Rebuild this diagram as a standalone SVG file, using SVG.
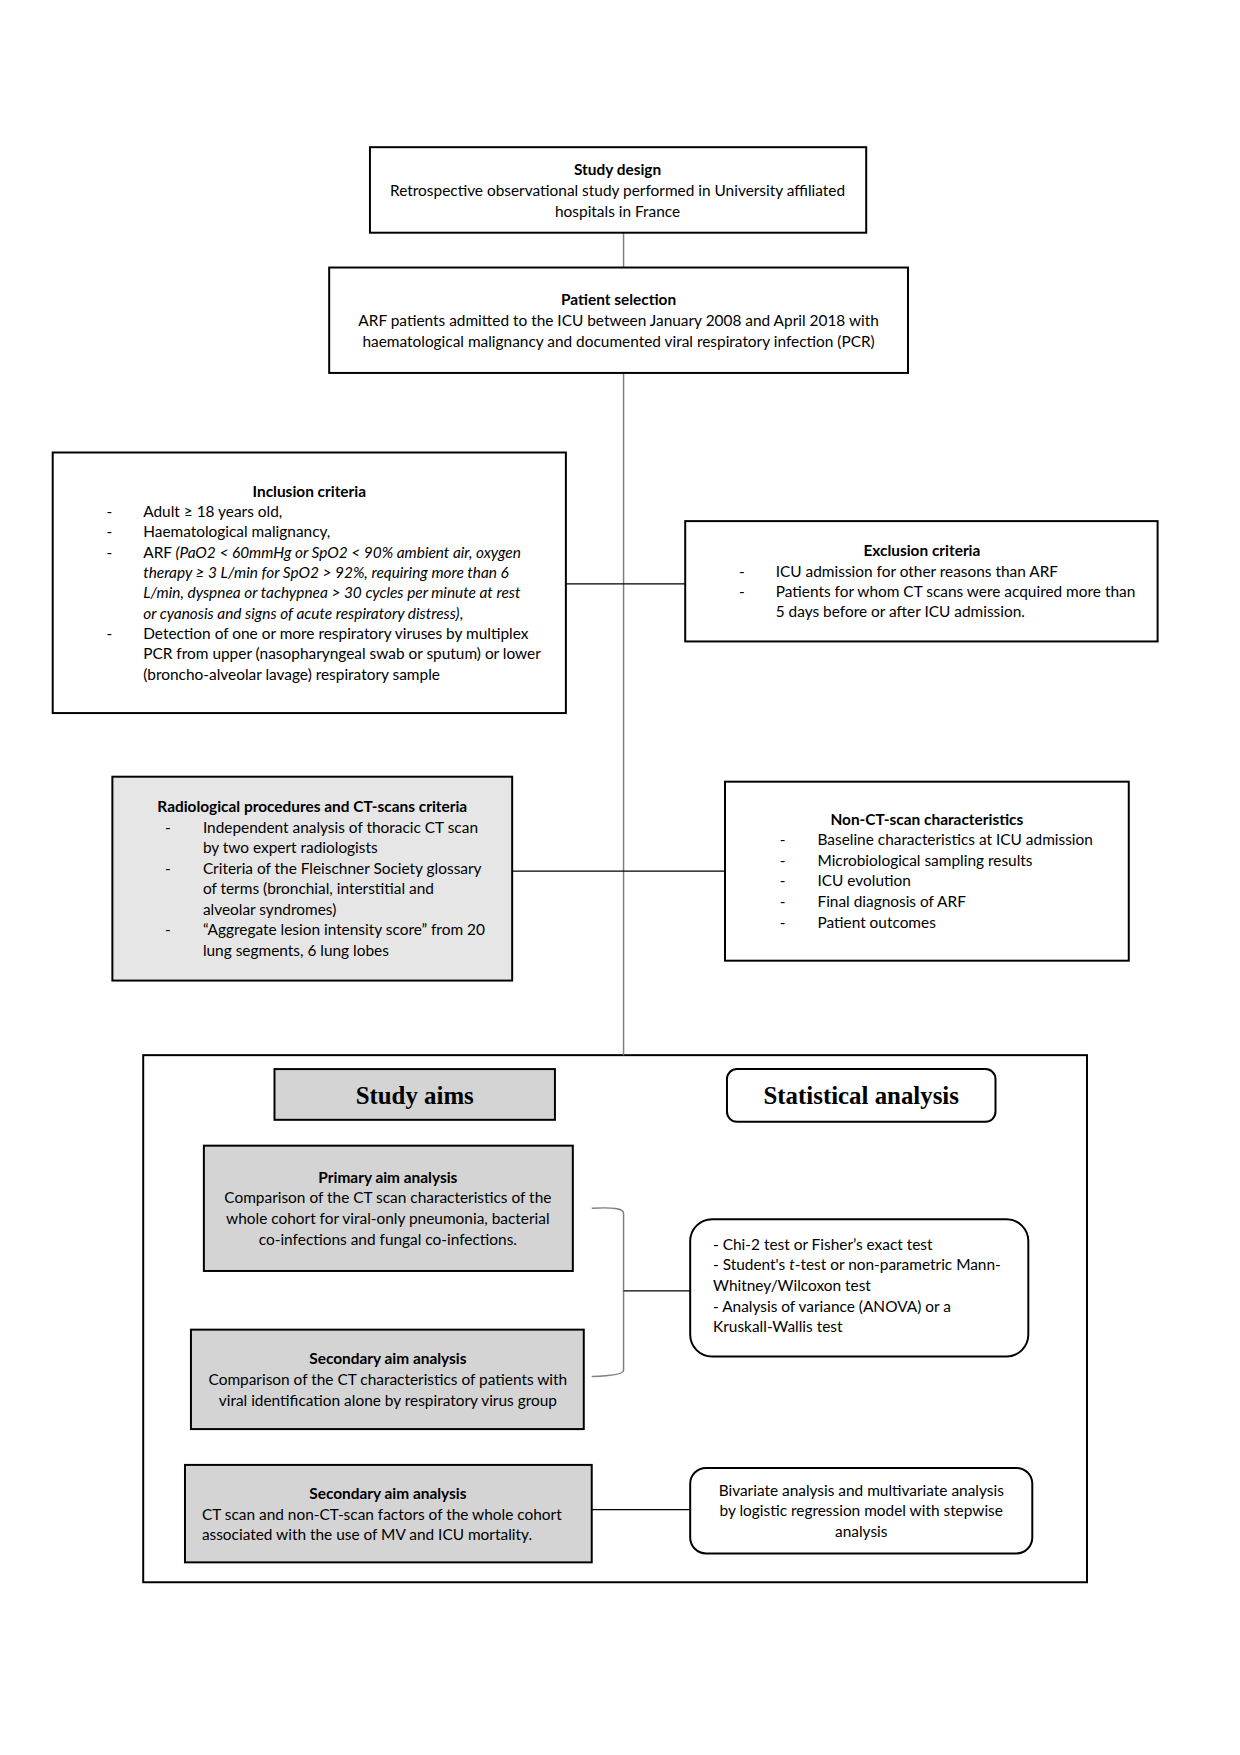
<svg xmlns="http://www.w3.org/2000/svg" width="1240" height="1755" viewBox="0 0 1240 1755">
<style>
.box{fill:#fff;stroke:#000;stroke-width:2}
.frame{fill:none;stroke:#000;stroke-width:2}
.grey{fill:#e6e6e6;stroke:#000;stroke-width:2}
.dgrey{fill:#d4d4d4;stroke:#000;stroke-width:2}
.t{font-family:Lato,"Liberation Sans",sans-serif;font-size:15.5px;fill:#000}
.b{font-weight:bold}
.c{text-anchor:middle}
.i{font-style:italic}
.serif{font-family:"Liberation Serif",serif;font-weight:bold;font-size:25px;text-anchor:middle}
.ln{fill:none;stroke:#000;stroke-width:1.3}
.gl{fill:none;stroke:#7f7f7f;stroke-width:1.5}
</style>
<rect width="1240" height="1755" fill="#fff"/>
<g transform="scale(0.9945)">
<g id="analysis-frame">
<rect class="frame" x="144" y="1061" width="949" height="530"/>
</g>
<g id="connectors">
<line class="gl" x1="627" y1="234" x2="627" y2="269"/>
<line class="gl" x1="627" y1="375" x2="627" y2="1061"/>
<line class="ln" x1="569" y1="587" x2="689" y2="587"/>
<line class="ln" x1="515" y1="876" x2="729" y2="876"/>
<path class="gl" d="M595,1215 Q627,1213 627,1220 L627,1378 Q627,1383 595,1384"/>
<line class="ln" x1="627" y1="1298" x2="694" y2="1298"/>
<line class="ln" x1="595" y1="1518" x2="694" y2="1518"/>
</g>
<g id="study-design">
<rect class="box" x="372" y="148" width="499" height="86"/>
<text class="t b c" x="621" y="176">Study design</text>
<text class="t c" x="621" y="197">Retrospective observational study performed in University affiliated</text>
<text class="t c" x="621" y="218">hospitals in France</text>
</g>
<g id="patient-selection">
<rect class="box" x="331" y="269" width="582" height="106"/>
<text class="t b c" x="622" y="307">Patient selection</text>
<text class="t c" x="622" y="328">ARF patients admitted to the ICU between January 2008 and April 2018 with</text>
<text class="t c" x="622" y="349">haematological malignancy and documented viral respiratory infection (PCR)</text>
</g>
<g id="inclusion">
<rect class="box" x="53" y="455" width="516" height="262"/>
<text class="t b c" x="311" y="500">Inclusion criteria</text>
<text class="t" x="107" y="520">-</text><text class="t" x="144" y="520">Adult ≥ 18 years old,</text>
<text class="t" x="107" y="540">-</text><text class="t" x="144" y="540">Haematological malignancy,</text>
<text class="t" x="107" y="561">-</text><text class="t" x="144" y="561">ARF <tspan class="i">(PaO2 &lt; 60mmHg or SpO2 &lt; 90% ambient air, oxygen</tspan></text>
<text class="t i" x="144" y="581">therapy ≥ 3 L/min for SpO2 &gt; 92%, requiring more than 6</text>
<text class="t i" x="144" y="601">L/min, dyspnea or tachypnea &gt; 30 cycles per minute at rest</text>
<text class="t" x="144" y="622"><tspan class="i">or cyanosis and signs of acute respiratory distress)</tspan>,</text>
<text class="t" x="107" y="643">-</text><text class="t" x="144" y="643">Detection of one or more respiratory viruses by multiplex</text>
<text class="t" x="144" y="663">PCR from upper (nasopharyngeal swab or sputum) or lower</text>
<text class="t" x="144" y="684">(broncho-alveolar lavage) respiratory sample</text>
</g>
<g id="exclusion">
<rect class="box" x="689" y="524" width="475" height="121"/>
<text class="t b c" x="927" y="559">Exclusion criteria</text>
<text class="t" x="743" y="580">-</text><text class="t" x="780" y="580">ICU admission for other reasons than ARF</text>
<text class="t" x="743" y="600">-</text><text class="t" x="780" y="600">Patients for whom CT scans were acquired more than</text>
<text class="t" x="780" y="620">5 days before or after ICU admission.</text>
</g>
<g id="radiological">
<rect class="grey" x="113" y="781" width="402" height="205"/>
<text class="t b c" x="314" y="816">Radiological procedures and CT-scans criteria</text>
<text class="t" x="166" y="838">-</text><text class="t" x="204" y="838">Independent analysis of thoracic CT scan</text>
<text class="t" x="204" y="858">by two expert radiologists</text>
<text class="t" x="166" y="879">-</text><text class="t" x="204" y="879">Criteria of the Fleischner Society glossary</text>
<text class="t" x="204" y="899">of terms (bronchial, interstitial and</text>
<text class="t" x="204" y="920">alveolar syndromes)</text>
<text class="t" x="166" y="940">-</text><text class="t" x="204" y="940">“Aggregate lesion intensity score” from 20</text>
<text class="t" x="204" y="961">lung segments, 6 lung lobes</text>
</g>
<g id="non-ct">
<rect class="box" x="729" y="786" width="406" height="180"/>
<text class="t b c" x="932" y="830">Non-CT-scan characteristics</text>
<text class="t" x="784" y="850">-</text><text class="t" x="822" y="850">Baseline characteristics at ICU admission</text>
<text class="t" x="784" y="871">-</text><text class="t" x="822" y="871">Microbiological sampling results</text>
<text class="t" x="784" y="891">-</text><text class="t" x="822" y="891">ICU evolution</text>
<text class="t" x="784" y="912">-</text><text class="t" x="822" y="912">Final diagnosis of ARF</text>
<text class="t" x="784" y="933">-</text><text class="t" x="822" y="933">Patient outcomes</text>
</g>
<g id="study-aims">
<rect class="dgrey" x="276" y="1075" width="282" height="51"/>
<text class="serif" x="417" y="1110">Study aims</text>
</g>
<g id="statistical-analysis">
<rect class="box" x="731" y="1075" width="270" height="53" rx="10"/>
<text class="serif" x="866" y="1110">Statistical analysis</text>
</g>
<g id="primary-aim">
<rect class="dgrey" x="205" y="1152" width="371" height="126"/>
<text class="t b c" x="390" y="1190">Primary aim analysis</text>
<text class="t c" x="390" y="1210">Comparison of the CT scan characteristics of the</text>
<text class="t c" x="390" y="1231">whole cohort for viral-only pneumonia, bacterial</text>
<text class="t c" x="390" y="1252">co-infections and fungal co-infections.</text>
</g>
<g id="secondary-aim-1">
<rect class="dgrey" x="192" y="1337" width="395" height="100"/>
<text class="t b c" x="390" y="1372">Secondary aim analysis</text>
<text class="t c" x="390" y="1393">Comparison of the CT characteristics of patients with</text>
<text class="t c" x="390" y="1414">viral identification alone by respiratory virus group</text>
</g>
<g id="tests">
<rect class="box" x="694" y="1226" width="340" height="138" rx="22"/>
<text class="t" x="717" y="1257">- Chi-2 test or Fisher’s exact test</text>
<text class="t" x="717" y="1277">- Student's <tspan class="i">t</tspan>-test or non-parametric Mann-</text>
<text class="t" x="717" y="1298">Whitney/Wilcoxon test</text>
<text class="t" x="717" y="1319">- Analysis of variance (ANOVA) or a</text>
<text class="t" x="717" y="1339">Kruskall-Wallis test</text>
</g>
<g id="secondary-aim-2">
<rect class="dgrey" x="186" y="1473" width="409" height="98"/>
<text class="t b c" x="390" y="1507">Secondary aim analysis</text>
<text class="t" x="203" y="1528">CT scan and non-CT-scan factors of the whole cohort</text>
<text class="t" x="203" y="1549">associated with the use of MV and ICU mortality.</text>
</g>
<g id="bivariate">
<rect class="box" x="694" y="1476" width="344" height="86" rx="16"/>
<text class="t c" x="866" y="1504">Bivariate analysis and multivariate analysis</text>
<text class="t c" x="866" y="1524">by logistic regression model with stepwise</text>
<text class="t c" x="866" y="1545">analysis</text>
</g>
</g>
</svg>
